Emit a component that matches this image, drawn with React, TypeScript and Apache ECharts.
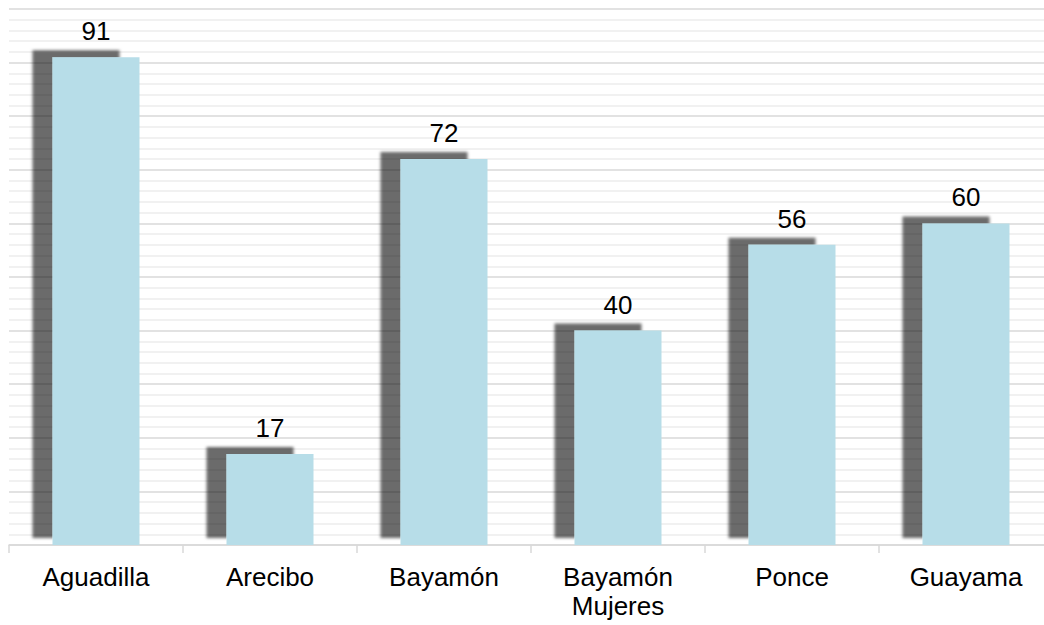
import React, { useEffect, useRef } from "react";
import * as echarts from "echarts";

const categories = ["Aguadilla", "Arecibo", "Bayamón", "Bayamón\nMujeres", "Ponce", "Guayama"];
const values = [91, 17, 72, 40, 56, 60];

export default function App() {
  const ref = useRef<HTMLDivElement>(null);
  useEffect(() => {
    if (!ref.current) return;
    const chart = echarts.init(ref.current, null, { renderer: "svg" });
    chart.setOption({
      animation: false,
      grid: {
        left: 9,
        width: 1044,
        top: 9,
        bottom: 80,
        containLabel: false,
        outerBoundsMode: "none",
      },
      xAxis: {
        type: "category",
        data: categories,
        axisLine: { show: true, lineStyle: { color: "#d9d9d9", width: 1.5 } },
        axisTick: { show: true, length: 8, lineStyle: { color: "#d9d9d9", width: 1.5 } },
        axisLabel: {
          color: "#000",
          fontFamily: "Liberation Sans, Arial, sans-serif",
          fontSize: 26,
          lineHeight: 29,
          margin: 17,
          interval: 0,
        },
      },
      yAxis: {
        type: "value",
        min: 0,
        max: 100,
        interval: 10,
        axisLabel: { show: false },
        axisLine: { show: false },
        axisTick: { show: false },
        splitLine: { show: true, lineStyle: { color: "#d9d9d9", width: 1.5 } },
        minorTick: { show: false, splitNumber: 5 },
        minorSplitLine: { show: true, lineStyle: { color: "#ededed", width: 1.5 } },
      },
      series: [
        {
          type: "bar",
          data: values,
          barWidth: "50%",
          itemStyle: {
            color: "#b7dde8",
            shadowColor: "rgba(0,0,0,0.58)",
            shadowBlur: 3,
            shadowOffsetX: -20,
            shadowOffsetY: -7,
          },
          label: {
            show: true,
            position: "top",
            distance: 13,
            color: "#000",
            fontFamily: "Liberation Sans, Arial, sans-serif",
            fontSize: 26,
          },
        },
      ],
    });
    return () => chart.dispose();
  }, []);
  return (
    <div
      ref={ref}
      style={{ position: "absolute", left: 0, top: 0, width: 1044, height: 625 }}
    />
  );
}
